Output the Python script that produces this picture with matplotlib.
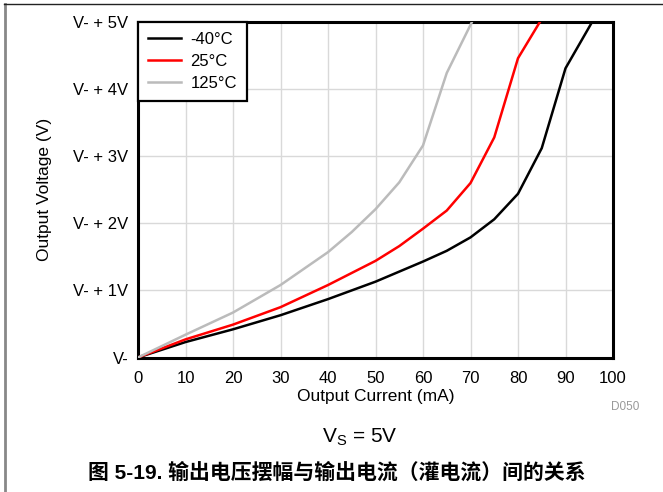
import matplotlib
matplotlib.use("Agg")
import matplotlib.pyplot as plt
from matplotlib.lines import Line2D

plt.rcParams['font.family'] = ['Liberation Sans', 'DejaVu Sans']

# Output current (mA) and output voltage above V- (V)
cur_m40 = [0, 10, 20, 30, 40, 50, 60, 65, 70, 75, 80, 85, 90, 95.6]
v_m40 = [0, 0.23, 0.42, 0.63, 0.87, 1.13, 1.43, 1.59, 1.79, 2.06, 2.44, 3.12, 4.31, 5.0]

cur_25 = [0, 10, 20, 30, 40, 50, 55, 60, 65, 70, 75, 80, 84.6]
v_25 = [0, 0.27, 0.49, 0.75, 1.08, 1.44, 1.66, 1.92, 2.19, 2.6, 3.28, 4.46, 5.0]

cur_125 = [0, 10, 20, 30, 40, 45, 50, 55, 60, 65, 70.3]
v_125 = [0, 0.34, 0.67, 1.08, 1.57, 1.87, 2.21, 2.61, 3.16, 4.24, 5.0]

x_ticks = [0, 10, 20, 30, 40, 50, 60, 70, 80, 90, 100]
y_ticks = [0, 1, 2, 3, 4, 5]
y_tick_labels = ['V-', 'V- + 1V', 'V- + 2V', 'V- + 3V', 'V- + 4V', 'V- + 5V']

fig = plt.figure(figsize=(6.63, 4.92), dpi=100)
ax = fig.add_axes([138/663, 1-357.5/492, 475/663, 335.5/492])

ax.plot(cur_m40, v_m40, color='black', lw=1.8, label='-40°C', zorder=3)
ax.plot(cur_25, v_25, color='#ff0000', lw=1.8, label='25°C', zorder=3)
ax.plot(cur_125, v_125, color='#bbbbbb', lw=1.8, label='125°C', zorder=3)

ax.set_xlim(0, 100)
ax.set_ylim(0, 5)
ax.set_xticks(x_ticks)
ax.set_yticks(y_ticks)
ax.set_yticklabels(y_tick_labels)
ax.tick_params(length=0, labelsize=12)
ax.tick_params(axis='x', pad=10)
ax.tick_params(axis='y', pad=7)
ax.grid(True, color='#d9d9d9', lw=1.0)
ax.set_axisbelow(True)
for s in ax.spines.values():
    s.set_linewidth(2.2)
    s.set_color('black')

ax.set_xlabel('Output Current (mA)', fontsize=12.5, labelpad=2)
ax.set_ylabel('Output Voltage (V)', fontsize=12.5, labelpad=15)

leg = ax.legend(loc='upper left', bbox_to_anchor=(0, 1), borderaxespad=0,
                fontsize=12, fancybox=False, framealpha=1, edgecolor='black',
                handlelength=2.0, handletextpad=0.55, labelspacing=0.42,
                borderpad=0.6)
leg.get_frame().set_linewidth(1.6)

fig.text(625/663, 1-407/492, 'D050', fontsize=8.5, color='#999999', ha='center', va='center')
fig.text(360/663, 1-437/492, r'V$_\mathregular{S}$ = 5V', fontsize=15, ha='center', va='center')
fig.text(337/663, 1-473/492, '图 5-19. 输出电压摆幅与输出电流（灌电流）间的关系',
         fontsize=15, fontweight='bold', ha='center', va='center',
         family=['Liberation Sans', 'Noto Sans CJK SC', 'DejaVu Sans'])

# page frame lines
fig.add_artist(Line2D([4.5/663, 4.5/663], [0, 1-4/492], transform=fig.transFigure,
                      color='#888888', lw=2))
fig.add_artist(Line2D([4/663, 1], [1-4/492, 1-4/492], transform=fig.transFigure,
                      color='#222222', lw=1))

fig.savefig('out.png', dpi=100)
